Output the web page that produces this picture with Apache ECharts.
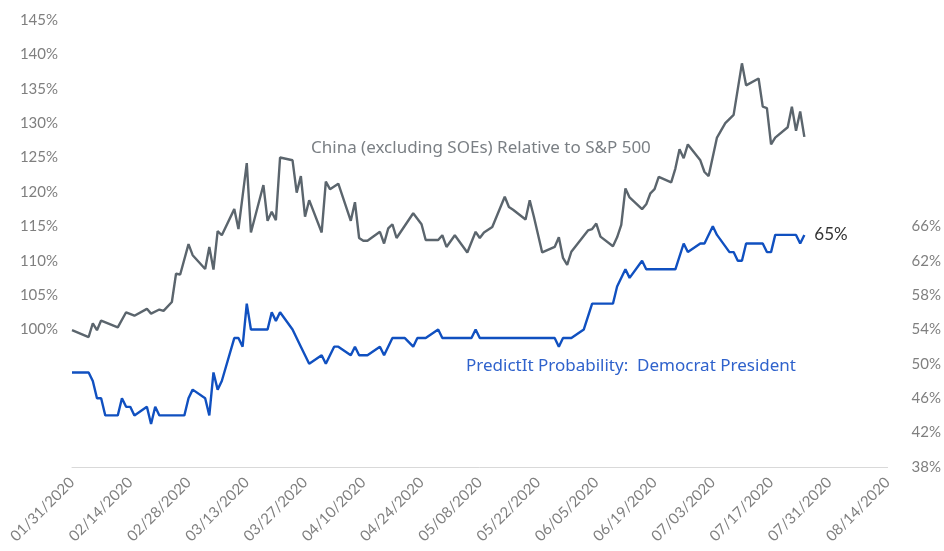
<!DOCTYPE html>
<html>
<head>
<meta charset="utf-8">
<script src="https://cdn.jsdelivr.net/npm/echarts@6/dist/echarts.min.js"></script>
<style>
html,body{margin:0;padding:0;background:#fff;}
#chart{width:944px;height:551px;}
</style>
</head>
<body>
<div id="chart"></div>
<script>
// x values are days since 01/31/2020
var tickLabelsX = ['01/31/2020','02/14/2020','02/28/2020','03/13/2020','03/27/2020','04/10/2020','04/24/2020','05/08/2020','05/22/2020','06/05/2020','06/19/2020','07/03/2020','07/17/2020','07/31/2020','08/14/2020'];

var chinaDay = [0,4,5,6,7,11,13,15,18,19,21,22,24,25,26,28,29,32,33,34,35,36,39,40,42,43,46,47,48,49,50,53,54,55,56,57,60,61,62,64,67,68,69,70,71,74,75,76,77,78,82,84,85,88,89,90,92,95,97,98,99,101,104,105,106,109,110,111,113,116,117,118,119,120,124,125,126,127,130,131,132,133,134,137,138,139,140,141,144,145,146,147,148,151,152,153,155,157,159,161,162,165,166,167,168,169,172,173,174,175,176];
var chinaValue = [99.9,98.9,100.9,99.9,101.3,100.3,102.5,102.0,103.0,102.3,102.9,102.7,104.0,108.1,108.0,112.4,110.8,108.8,112.0,108.7,114.3,113.7,117.5,114.6,124.2,114.1,121.0,115.8,117.1,115.9,125.0,124.6,119.9,122.3,116.4,118.8,114.1,121.5,120.4,121.2,115.8,118.5,113.3,112.9,112.9,114.2,112.5,114.7,115.3,113.3,116.9,115.3,113.0,113.0,113.7,112.0,113.7,111.2,114.2,113.3,114.1,114.9,119.3,117.8,117.4,116.0,118.8,116.4,111.2,112.0,113.4,110.4,109.4,111.3,114.4,114.6,115.4,113.5,112.1,113.4,115.2,120.5,119.2,117.5,118.2,119.8,120.4,122.2,121.4,123.4,126.2,124.9,126.9,124.6,122.9,122.3,127.9,130.0,131.2,138.7,135.5,136.5,132.4,132.2,126.9,127.9,129.4,132.4,128.9,131.7,128.0];

var probDay = [0,4,5,6,7,8,11,12,13,14,15,18,19,20,21,27,28,29,32,33,34,35,36,39,40,41,42,43,47,48,49,50,53,55,57,60,61,63,64,67,68,69,71,74,75,77,80,82,83,85,88,89,96,97,98,116,117,118,120,123,125,130,131,133,134,137,138,145,147,148,151,152,154,155,158,159,160,161,162,166,167,168,169,174,175,176];
var probValue = [49,49,48,46,46,44,44,46,45,45,44,45,43,45,44,44,46,47,46,44,49,47,48,53,53,52,57,54,54,56,55,56,54,52,50,51,50,52,52,51,52,51,51,52,51,53,53,52,53,53,54,53,53,54,53,53,52,53,53,54,57,57,59,61,60,62,61,61,64,63,64,64,66,65,63,63,62,62,64,64,63,63,65,65,64,65];

var leftTicks = [100,105,110,115,120,125,130,135,140,145];
var rightTicks = [38,42,46,50,54,58,62,66];

function zip(a, b) { return a.map(function (d, i) { return [d, b[i]]; }); }

var font = 'Lato, "Noto Sans", sans-serif';
var noteFont = '"Noto Sans", Lato, sans-serif';
var chart = echarts.init(document.getElementById('chart'));
chart.setOption({
  animation: false,
  backgroundColor: '#ffffff',
  grid: { left: 72, right: 54, top: 20, bottom: 84 },
  xAxis: {
    type: 'value', min: 0, max: 196, interval: 14,
    axisLine: { show: true, lineStyle: { color: '#d9d9d9', width: 1 } },
    axisTick: { show: false },
    splitLine: { show: false },
    axisLabel: {
      rotate: 45, margin: 13, color: '#7f7f7f', fontSize: 15, fontFamily: font,
      formatter: function (v) { return tickLabelsX[Math.round(v / 14)] || ''; }
    }
  },
  yAxis: [{
    type: 'value', min: 80, max: 145, interval: 5, position: 'left',
    axisLine: { show: false }, axisTick: { show: false }, splitLine: { show: false },
    axisLabel: {
      margin: 14, color: '#7f7f7f', fontSize: 15, fontFamily: font,
      formatter: function (v) { return leftTicks.indexOf(v) >= 0 ? v + '%' : ''; }
    }
  }, {
    type: 'value', min: 38, max: 90, interval: 4, position: 'right',
    axisLine: { show: false }, axisTick: { show: false }, splitLine: { show: false },
    axisLabel: {
      margin: 24, color: '#7f7f7f', fontSize: 15, fontFamily: font,
      formatter: function (v) { return rightTicks.indexOf(v) >= 0 ? v + '%' : ''; }
    }
  }],
  series: [{
    name: 'China (excluding SOEs) Relative to S&P 500',
    type: 'line', yAxisIndex: 0, data: zip(chinaDay, chinaValue),
    showSymbol: false, lineStyle: { color: '#5b656d', width: 2.4 }, itemStyle: { color: '#5b656d' }
  }, {
    name: 'PredictIt Probability: Democrat President',
    type: 'line', yAxisIndex: 1, data: zip(probDay, probValue),
    showSymbol: false, lineStyle: { color: '#1050c0', width: 2.4 }, itemStyle: { color: '#1050c0' },
    endLabel: {
      show: true, distance: 10, color: '#333333', fontSize: 17, fontFamily: font,
      formatter: function (p) { return p.value[1] + '%'; }
    }
  }],
  graphic: [{
    type: 'text', x: 311, y: 148,
    style: { text: 'China (excluding SOEs) Relative to S&P 500', fill: '#7a7f84', font: '17px ' + noteFont, verticalAlign: 'middle' }
  }, {
    type: 'text', x: 466, y: 366,
    style: { text: 'PredictIt Probability:  Democrat President', fill: '#2f62cc', font: '17px ' + noteFont, verticalAlign: 'middle' }
  }]
});
</script>
</body>
</html>
